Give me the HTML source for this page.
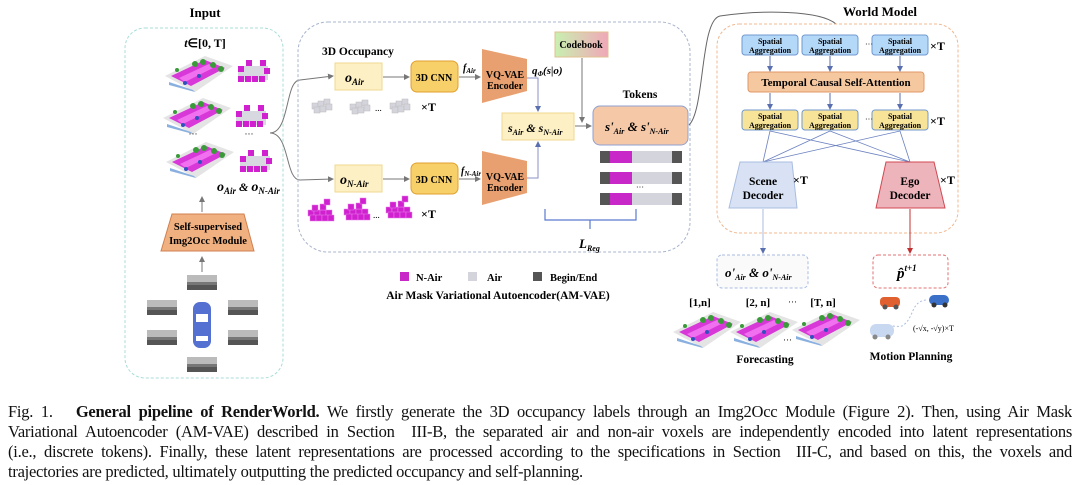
<!DOCTYPE html>
<html><head><meta charset="utf-8"><style>
body{margin:0;background:#fff;width:1080px;height:485px;overflow:hidden;position:relative;font-family:"Liberation Serif",serif}
svg{position:absolute;left:0;top:0}
.cap{position:absolute;left:8px;width:1064px;font-size:16.5px;line-height:20px;color:#111;letter-spacing:-0.25px}
.cap div{text-align:justify;text-align-last:justify;height:20px;overflow:hidden}
.cap div.l{text-align-last:left}
</style></head><body>
<svg width="1080" height="400" viewBox="0 0 1080 400" font-family="Liberation Serif, serif">
<defs>
<marker id="ag" markerWidth="6" markerHeight="6" refX="5" refY="3" orient="auto"><path d="M0,0L6,3L0,6z" fill="#777"/></marker>
<marker id="ab" markerWidth="6" markerHeight="6" refX="5" refY="3" orient="auto"><path d="M0,0L6,3L0,6z" fill="#5a6fb0"/></marker>
<marker id="ar" markerWidth="6" markerHeight="6" refX="5" refY="3" orient="auto"><path d="M0,0L6,3L0,6z" fill="#c03030"/></marker>
<linearGradient id="cb" x1="0" x2="1"><stop offset="0" stop-color="#c8f0b0"/><stop offset="1" stop-color="#f0a8b8"/></linearGradient>
<g id="scene">
<polygon points="0,20 40,0 68,10 30,36" fill="#e4e4e4"/>
<polygon points="6,20 40,4 60,12 26,30" fill="#d838d8"/>
<polygon points="14,22 44,8 50,11 20,26" fill="#f070f0"/>
<circle cx="30" cy="8" r="3" fill="#3a9a3a"/><circle cx="38" cy="6" r="3" fill="#3a9a3a"/><circle cx="48" cy="9" r="3" fill="#3a9a3a"/><circle cx="56" cy="13" r="3" fill="#3a9a3a"/><circle cx="12" cy="14" r="2" fill="#3a9a3a"/>
<circle cx="20" cy="27" r="2" fill="#3050c0"/><circle cx="34" cy="20" r="2" fill="#3050c0"/>
<polygon points="4,26 28,34 30,36 4,29" fill="#8ab0e0"/>
</g>
<g id="vox">
<rect x="0" y="6" width="30" height="14" fill="#d8d8e0"/>
<g fill="#d020d0"><rect x="0" y="16" width="6" height="6"/><rect x="7" y="16" width="6" height="6"/><rect x="14" y="16" width="6" height="6"/><rect x="21" y="16" width="6" height="6"/><rect x="26" y="8" width="6" height="6"/><rect x="8" y="0" width="6" height="6"/><rect x="0" y="6" width="6" height="6"/><rect x="22" y="0" width="6" height="6"/></g>
</g>
<g id="gv" fill="#d4d4dc" stroke="#bbb" stroke-width="0.5"><rect x="0" y="4" width="6" height="6"/><rect x="6" y="2" width="6" height="6"/><rect x="12" y="0" width="6" height="6"/><rect x="2" y="8" width="6" height="6"/><rect x="8" y="7" width="6" height="6"/><rect x="14" y="5" width="6" height="6"/></g>
<g id="pv" fill="#d020d0" stroke="#e880e8" stroke-width="0.5"><rect x="0" y="8" width="6" height="6"/><rect x="6" y="8" width="6" height="6"/><rect x="12" y="8" width="6" height="6"/><rect x="18" y="8" width="6" height="6"/><rect x="4" y="3" width="6" height="6"/><rect x="12" y="2" width="6" height="6"/><rect x="16" y="-3" width="6" height="6"/><rect x="2" y="13" width="6" height="6"/><rect x="8" y="13" width="6" height="6"/><rect x="14" y="13" width="6" height="6"/><rect x="20" y="13" width="6" height="6"/></g>
<g id="tok"><rect x="0" y="0" width="82" height="12" fill="#d4d4dc"/><rect x="0" y="0" width="10" height="12" fill="#555"/><rect x="10" y="0" width="22" height="12" fill="#c828c8"/><rect x="72" y="0" width="10" height="12" fill="#555"/></g>
<g id="cam"><rect width="30" height="15" fill="#777"/><rect y="0" width="30" height="7" fill="#bbb"/><rect y="10" width="30" height="5" fill="#555"/></g>
</defs>

<text x="205" y="17" font-size="13" font-weight="bold" text-anchor="middle">Input</text>
<rect x="125" y="28" width="158" height="350" rx="20" fill="none" stroke="#a8dcd8" stroke-dasharray="3,2"/>
<text x="205" y="47" font-size="12" font-weight="bold" text-anchor="middle"><tspan font-style="italic">t</tspan>∈[0, T]</text>
<use href="#scene" x="165" y="56"/><use href="#scene" x="163" y="98"/><use href="#scene" x="166" y="142"/>
<use href="#vox" x="238" y="60"/><use href="#vox" x="236" y="105"/><use href="#vox" x="240" y="150"/>
<text x="193" y="137" font-size="9" text-anchor="middle">···</text><text x="249" y="137" font-size="9" text-anchor="middle">···</text>
<text x="217" y="191" font-size="12" font-weight="bold" font-style="italic"><tspan font-size="14">o</tspan><tspan font-size="9" dy="3">Air</tspan><tspan dy="-3"> &amp; </tspan><tspan font-size="14">o</tspan><tspan font-size="9" dy="3">N-Air</tspan></text>
<line x1="202" y1="212" x2="202" y2="197" stroke="#777" marker-end="url(#ag)"/>
<polygon points="161,251 254,251 244,214 172,214" fill="#f0b080" stroke="#d08050"/>
<text x="208" y="230" font-size="10.5" font-weight="bold" text-anchor="middle">Self-supervised</text>
<text x="208" y="244" font-size="10.5" font-weight="bold" text-anchor="middle">Img2Occ Module</text>
<line x1="202" y1="272" x2="202" y2="257" stroke="#777" marker-end="url(#ag)"/>
<use href="#cam" x="187" y="275"/><use href="#cam" x="147" y="300"/><use href="#cam" x="228" y="300"/><use href="#cam" x="147" y="330"/><use href="#cam" x="228" y="330"/><use href="#cam" x="187" y="357"/>
<rect x="193" y="302" width="18" height="46" rx="7" fill="#5470d0"/><rect x="196" y="314" width="12" height="8" fill="#fff"/><rect x="196" y="336" width="12" height="5" fill="#fff"/>

<path d="M270,133 C290,133 285,80 300,80 L333,76" fill="none" stroke="#777" marker-end="url(#ag)"/>
<path d="M270,133 C290,133 285,180 300,180 L333,179" fill="none" stroke="#777" marker-end="url(#ag)"/>

<rect x="298" y="22" width="392" height="230" rx="30" fill="none" stroke="#a8b4cc" stroke-dasharray="3,2"/>
<text x="322" y="55" font-size="11.5" font-weight="bold">3D Occupancy</text>
<rect x="335" y="63" width="47" height="27" fill="#fdf0c4" stroke="#f0d890"/>
<text x="345" y="82" font-size="14" font-weight="bold" font-style="italic">o<tspan font-size="9" dy="3">Air</tspan></text>
<rect x="335" y="165" width="47" height="27" fill="#fdf0c4" stroke="#f0d890"/>
<text x="340" y="184" font-size="14" font-weight="bold" font-style="italic">o<tspan font-size="9" dy="3">N-Air</tspan></text>
<line x1="383" y1="77" x2="409" y2="77" stroke="#777" marker-end="url(#ag)"/>
<line x1="383" y1="179" x2="409" y2="179" stroke="#777" marker-end="url(#ag)"/>
<rect x="411" y="61" width="47" height="31" rx="6" fill="#f7d06a" stroke="#e0a030"/>
<text x="434" y="81" font-size="10" font-weight="bold" text-anchor="middle">3D CNN</text>
<rect x="411" y="163" width="47" height="31" rx="6" fill="#f7d06a" stroke="#e0a030"/>
<text x="434" y="183" font-size="10" font-weight="bold" text-anchor="middle">3D CNN</text>
<line x1="459" y1="77" x2="480" y2="77" stroke="#777" marker-end="url(#ag)"/>
<line x1="459" y1="179" x2="480" y2="179" stroke="#777" marker-end="url(#ag)"/>
<text x="463" y="71" font-size="10" font-weight="bold" font-style="italic">f<tspan font-size="7" dy="2">Air</tspan></text>
<text x="461" y="174" font-size="10" font-weight="bold" font-style="italic">f<tspan font-size="7" dy="2">N-Air</tspan></text>
<polygon points="482,49 527,59 527,91 482,103" fill="#e8a070"/>
<polygon points="482,151 527,161 527,193 482,205" fill="#e8a070"/>
<text x="505" y="78" font-size="10" font-weight="bold" text-anchor="middle">VQ-VAE</text><text x="505" y="89" font-size="10" font-weight="bold" text-anchor="middle">Encoder</text>
<text x="505" y="180" font-size="10" font-weight="bold" text-anchor="middle">VQ-VAE</text><text x="505" y="191" font-size="10" font-weight="bold" text-anchor="middle">Encoder</text>
<text x="532" y="74" font-size="11" font-weight="bold" font-style="italic">q<tspan font-size="7" dy="2">Φ</tspan><tspan dy="-2">(s|o)</tspan></text>
<path d="M527,78 L538,78 L538,111" fill="none" stroke="#8a90c8" marker-end="url(#ab)"/>
<path d="M527,178 L538,178 L538,142" fill="none" stroke="#8a90c8" marker-end="url(#ab)"/>
<rect x="502" y="113" width="72" height="27" fill="#fdf0c4" stroke="#f0d890"/>
<text x="508" y="132" font-size="12" font-weight="bold" font-style="italic">s<tspan font-size="8" dy="3">Air</tspan><tspan dy="-3"> &amp; s</tspan><tspan font-size="8" dy="3">N-Air</tspan></text>
<rect x="555" y="32" width="53" height="25" fill="url(#cb)" stroke="#e0c090"/>
<text x="581" y="48" font-size="10" font-weight="bold" text-anchor="middle">Codebook</text>
<line x1="582" y1="58" x2="582" y2="122" stroke="#777" marker-end="url(#ag)"/>
<line x1="575" y1="126" x2="591" y2="126" stroke="#777" marker-end="url(#ag)"/>
<text x="640" y="98" font-size="11.5" font-weight="bold" text-anchor="middle">Tokens</text>
<rect x="593" y="106" width="95" height="39" rx="7" fill="#f5c8a8" stroke="#90a0d0"/>
<text x="605" y="131" font-size="13" font-weight="bold" font-style="italic">s'<tspan font-size="8" dy="3">Air</tspan><tspan dy="-3"> &amp; s'</tspan><tspan font-size="8" dy="3">N-Air</tspan></text>
<use href="#tok" x="600" y="151"/><use href="#tok" x="600" y="172"/><use href="#tok" x="600" y="193"/>
<text x="640" y="190" font-size="8" text-anchor="middle">···</text>
<path d="M545,209 L545,220 L636,220 L636,209 M590,220 L590,229" fill="none" stroke="#5a7ad0" stroke-width="1.2"/>
<text x="579" y="248" font-size="13" font-weight="bold" font-style="italic">L<tspan font-size="8" dy="3">Reg</tspan></text>
<use href="#gv" x="312" y="99"/><use href="#gv" x="350" y="100"/><use href="#gv" x="390" y="99"/>
<text x="375" y="111" font-size="9">...</text><text x="421" y="111" font-size="12" font-weight="bold">×T</text>
<use href="#pv" x="308" y="202"/><use href="#pv" x="344" y="201"/><use href="#pv" x="386" y="199"/>
<text x="373" y="218" font-size="9">...</text><text x="421" y="218" font-size="12" font-weight="bold">×T</text>

<rect x="400" y="272" width="9" height="9" fill="#c828c8"/><text x="416" y="281" font-size="10.5" font-weight="bold">N-Air</text>
<rect x="468" y="272" width="9" height="9" fill="#d4d4dc"/><text x="487" y="281" font-size="10.5" font-weight="bold">Air</text>
<rect x="533" y="272" width="9" height="9" fill="#555"/><text x="550" y="281" font-size="10.5" font-weight="bold">Begin/End</text>
<text x="498" y="299" font-size="11.5" font-weight="bold" text-anchor="middle">Air Mask Variational Autoencoder(AM-VAE)</text>

<path d="M689,125 C705,110 700,20 720,16 C760,10 820,10 836,24" fill="none" stroke="#666"/>

<text x="880" y="16" font-size="13" font-weight="bold" text-anchor="middle">World Model</text>
<rect x="717" y="24" width="241" height="209" rx="22" fill="none" stroke="#f0b890" stroke-dasharray="3,2"/>
<g font-size="8" font-weight="bold" text-anchor="middle">
<rect x="742" y="35" width="56" height="20" rx="3" fill="#b4d8f8" stroke="#7098d0"/><text x="770" y="44">Spatial</text><text x="770" y="53">Aggregation</text>
<rect x="802" y="35" width="56" height="20" rx="3" fill="#b4d8f8" stroke="#7098d0"/><text x="830" y="44">Spatial</text><text x="830" y="53">Aggregation</text>
<rect x="872" y="35" width="56" height="20" rx="3" fill="#b4d8f8" stroke="#7098d0"/><text x="900" y="44">Spatial</text><text x="900" y="53">Aggregation</text>
<rect x="742" y="110" width="56" height="20" rx="3" fill="#f8e498" stroke="#7098d0"/><text x="770" y="119">Spatial</text><text x="770" y="128">Aggregation</text>
<rect x="802" y="110" width="56" height="20" rx="3" fill="#f8e498" stroke="#7098d0"/><text x="830" y="119">Spatial</text><text x="830" y="128">Aggregation</text>
<rect x="872" y="110" width="56" height="20" rx="3" fill="#f8e498" stroke="#7098d0"/><text x="900" y="119">Spatial</text><text x="900" y="128">Aggregation</text>
</g>
<text x="865" y="47" font-size="8">···</text><text x="865" y="122" font-size="8">···</text>
<text x="930" y="50" font-size="12" font-weight="bold">×T</text><text x="930" y="125" font-size="12" font-weight="bold">×T</text>
<rect x="748" y="72" width="176" height="20" rx="3" fill="#f5c8a0" stroke="#e09868"/>
<text x="836" y="86" font-size="11" font-weight="bold" text-anchor="middle">Temporal Causal Self-Attention</text>
<g stroke="#5a6fb0" marker-end="url(#ab)">
<line x1="770" y1="56" x2="770" y2="71"/><line x1="830" y1="56" x2="830" y2="71"/><line x1="900" y1="56" x2="900" y2="71"/>
<line x1="770" y1="93" x2="770" y2="109"/><line x1="830" y1="93" x2="830" y2="109"/><line x1="900" y1="93" x2="900" y2="109"/>
</g>
<g stroke="#6a80c0" stroke-width="0.8">
<line x1="770" y1="131" x2="763" y2="162"/><line x1="830" y1="131" x2="763" y2="162"/><line x1="900" y1="131" x2="763" y2="162"/>
<line x1="770" y1="131" x2="910" y2="162"/><line x1="830" y1="131" x2="910" y2="162"/><line x1="900" y1="131" x2="910" y2="162"/>
</g>
<polygon points="740,162 792,162 797,208 729,208" fill="#d8e2f4" stroke="#a8bce0"/>
<text x="763" y="185" font-size="11.5" font-weight="bold" text-anchor="middle">Scene</text><text x="763" y="199" font-size="11.5" font-weight="bold" text-anchor="middle">Decoder</text>
<text x="793" y="184" font-size="12" font-weight="bold">×T</text>
<polygon points="886,162 934,162 945,208 876,208" fill="#eeb4bc" stroke="#d04850"/>
<text x="910" y="185" font-size="11.5" font-weight="bold" text-anchor="middle">Ego</text><text x="910" y="199" font-size="11.5" font-weight="bold" text-anchor="middle">Decoder</text>
<text x="940" y="184" font-size="12" font-weight="bold">×T</text>
<line x1="763" y1="209" x2="763" y2="253" stroke="#a8bce0" marker-end="url(#ab)"/>
<line x1="910" y1="209" x2="910" y2="253" stroke="#c03030" marker-end="url(#ar)"/>
<rect x="717" y="255" width="91" height="33" rx="5" fill="#fafafa" stroke="#a8bce0" stroke-dasharray="3,2"/>
<text x="725" y="277" font-size="13" font-weight="bold" font-style="italic">o'<tspan font-size="8" dy="3">Air</tspan><tspan dy="-3"> &amp; o'</tspan><tspan font-size="8" dy="3">N-Air</tspan></text>
<rect x="873" y="255" width="75" height="33" rx="5" fill="#fff" stroke="#e07070" stroke-dasharray="3,2"/>
<text x="897" y="278" font-size="15" font-weight="bold" font-style="italic">p̂<tspan font-size="9" dy="-7">t+1</tspan></text>

<g font-size="11" font-weight="bold" text-anchor="middle"><text x="700" y="306">[1,n]</text><text x="758" y="306">[2, n]</text><text x="823" y="306">[T, n]</text></g>
<text x="788" y="305" font-size="9">···</text>
<use href="#scene" x="673" y="312"/><use href="#scene" x="730" y="312"/><use href="#scene" x="792" y="310"/>
<text x="783" y="343" font-size="9">···</text>
<text x="765" y="363" font-size="11.5" font-weight="bold" text-anchor="middle">Forecasting</text>
<rect x="880" y="297" width="20" height="10" rx="4" fill="#e06030"/><circle cx="885" cy="307" r="2.5" fill="#555"/><circle cx="896" cy="307" r="2.5" fill="#555"/>
<rect x="929" y="295" width="20" height="10" rx="5" fill="#3a70c8"/><circle cx="934" cy="305" r="2.5" fill="#333"/><circle cx="945" cy="305" r="2.5" fill="#333"/>
<path d="M872,333 C878,320 892,328 902,326 C915,318 910,302 926,300" fill="none" stroke="#a8c0e0" stroke-dasharray="2,2"/>
<rect x="870" y="324" width="24" height="13" rx="6" fill="#c8d8f0"/><circle cx="875" cy="337" r="2.5" fill="#888"/><circle cx="888" cy="337" r="2.5" fill="#888"/>
<text x="913" y="331" font-size="8">(-√x, -√y)×T</text>
<text x="911" y="360" font-size="11.5" font-weight="bold" text-anchor="middle">Motion Planning</text>
</svg>
<div class="cap" style="top:402px">
<div>Fig. 1.&nbsp;&nbsp;&nbsp;<b>General pipeline of RenderWorld.</b> We firstly generate the 3D occupancy labels through an Img2Occ Module (Figure 2). Then, using Air Mask</div>
<div>Variational Autoencoder (AM-VAE) described in Section&nbsp; III-B, the separated air and non-air voxels are independently encoded into latent representations</div>
<div>(i.e., discrete tokens). Finally, these latent representations are processed according to the specifications in Section&nbsp; III-C, and based on this, the voxels and</div>
<div class="l">trajectories are predicted, ultimately outputting the predicted occupancy and self-planning.</div>
</div>
</body></html>
